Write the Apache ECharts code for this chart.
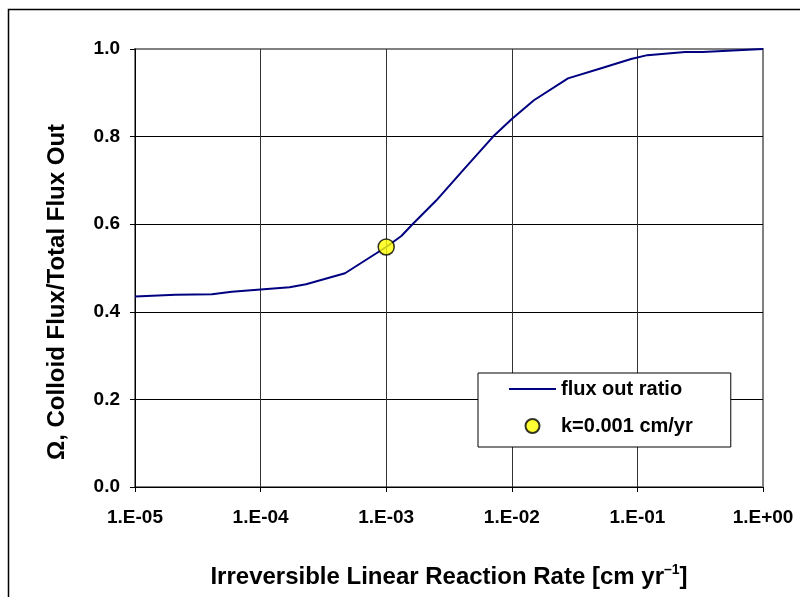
<!DOCTYPE html>
<html>
<head>
<meta charset="utf-8">
<script src="https://cdn.jsdelivr.net/npm/echarts@6/dist/echarts.min.js"></script>
<style>
html,body{margin:0;padding:0;background:#fff;}
#chart{width:800px;height:597px;}
</style>
</head>
<body>
<div id="chart"></div>
<script>
// Reaction rate k [cm/yr]
var rateK = [1e-5, 2.1e-5, 4.1e-5, 5.9e-5, 1e-4, 1.7e-4, 2.3e-4, 4.7e-4, 1e-3, 1.32e-3, 1.62e-3, 2.5e-3, 4e-3, 7.1e-3, 1e-2, 1.5e-2, 2.8e-2, 5e-2, 8.9e-2, 1.2e-1, 2.4e-1, 3.3e-1, 1];
// Omega, colloid flux / total flux out
var fluxRatio = [0.435, 0.439, 0.440, 0.446, 0.451, 0.456, 0.463, 0.488, 0.548, 0.573, 0.600, 0.654, 0.720, 0.800, 0.840, 0.883, 0.933, 0.955, 0.977, 0.986, 0.993, 0.993, 1.0];
// Highlighted point
var pointK = [1e-3];
var pointRatio = [0.548];
var seriesNames = ['flux out ratio', 'k=0.001 cm/yr'];
var xTitle = 'Irreversible Linear Reaction Rate [cm yr';
var xTitleSup = '\u20131';
var yTitle = '\u03A9, Colloid Flux/Total Flux Out';

var FONT = '"Liberation Sans", Arial, sans-serif';

function fmtExp(v) {
  var e = Math.round(Math.log10(v));
  var s = e < 0 ? '-' : '+';
  var a = Math.abs(e);
  return '1.E' + s + (a < 10 ? '0' + a : '' + a);
}

var lineData = rateK.map(function (k, i) { return [k, fluxRatio[i]]; });
var pointData = pointK.map(function (k, i) { return [k, pointRatio[i]]; });

var chart = echarts.init(document.getElementById('chart'), null, {renderer: 'canvas'});
chart.setOption({
  animation: false,
  backgroundColor: '#fff',
  textStyle: {fontFamily: FONT},
  grid: {
    left: 135, top: 49, right: 37, bottom: 110,
    show: true, borderColor: '#808080', borderWidth: 2, backgroundColor: 'transparent'
  },
  graphic: [{
    type: 'rect',
    shape: {x: 8.5, y: 9.5, width: 820, height: 620},
    style: {fill: null, stroke: '#000', lineWidth: 1.5},
    silent: true, z: -10
  }],
  legend: {
    left: 478, top: 373,
    orient: 'vertical',
    backgroundColor: '#fff',
    borderColor: '#000', borderWidth: 1,
    padding: [5, 38, 10, 31],
    itemWidth: 47, itemHeight: 14, itemGap: 15,
    textStyle: {fontFamily: FONT, fontWeight: 'bold', fontSize: 20, color: '#000', lineHeight: 22},
    data: [
      {name: seriesNames[0], icon: 'path://M0,0M0,6L47,6L47,8L0,8ZM47,14'},
      {name: seriesNames[1]}
    ]
  },
  xAxis: {
    type: 'log', logBase: 10, min: 1e-5, max: 1,
    name: '{a|' + xTitle + '}{s|' + xTitleSup + '}{a|]}',
    nameLocation: 'middle', nameGap: 76,
    nameTextStyle: {
      rich: {
        a: {fontFamily: FONT, fontWeight: 'bold', fontSize: 24, color: '#000', lineHeight: 28},
        s: {fontFamily: FONT, fontWeight: 'bold', fontSize: 14, color: '#000', padding: [0, 0, 14, 0]}
      }
    },
    axisLine: {lineStyle: {color: '#000', width: 1}},
    axisTick: {show: true, inside: false, length: 5, lineStyle: {color: '#000'}},
    minorTick: {show: false},
    axisLabel: {
      margin: 21, color: '#000', fontFamily: FONT, fontWeight: 'bold', fontSize: 19,
      formatter: fmtExp
    },
    splitLine: {show: true, showMaxLine: false, lineStyle: {color: '#333', width: 1}}
  },
  yAxis: {
    type: 'value', min: 0, max: 1, interval: 0.2,
    name: yTitle,
    nameLocation: 'middle', nameGap: 66,
    nameTextStyle: {fontFamily: FONT, fontWeight: 'bold', fontSize: 24, color: '#000', lineHeight: 24, padding: [0, 48, 0, 0]},
    axisLine: {show: true, lineStyle: {color: '#000', width: 1}},
    axisTick: {show: true, inside: false, length: 5, lineStyle: {color: '#000'}},
    axisLabel: {
      margin: 15, color: '#000', fontFamily: FONT, fontWeight: 'bold', fontSize: 19,
      formatter: function (v) { return v.toFixed(1); }
    },
    splitLine: {show: true, showMaxLine: false, lineStyle: {color: '#000', width: 1}}
  },
  series: [{
    name: seriesNames[0],
    type: 'line',
    data: lineData,
    symbol: 'none',
    lineStyle: {color: '#000080', width: 2},
    itemStyle: {color: '#000080'},
    z: 3
  }, {
    name: seriesNames[1],
    type: 'scatter',
    data: pointData,
    symbol: 'circle',
    symbolSize: 16,
    itemStyle: {color: '#FFFF00', borderColor: '#000', borderWidth: 1.5},
    z: 4
  }]
});
</script>
</body>
</html>
